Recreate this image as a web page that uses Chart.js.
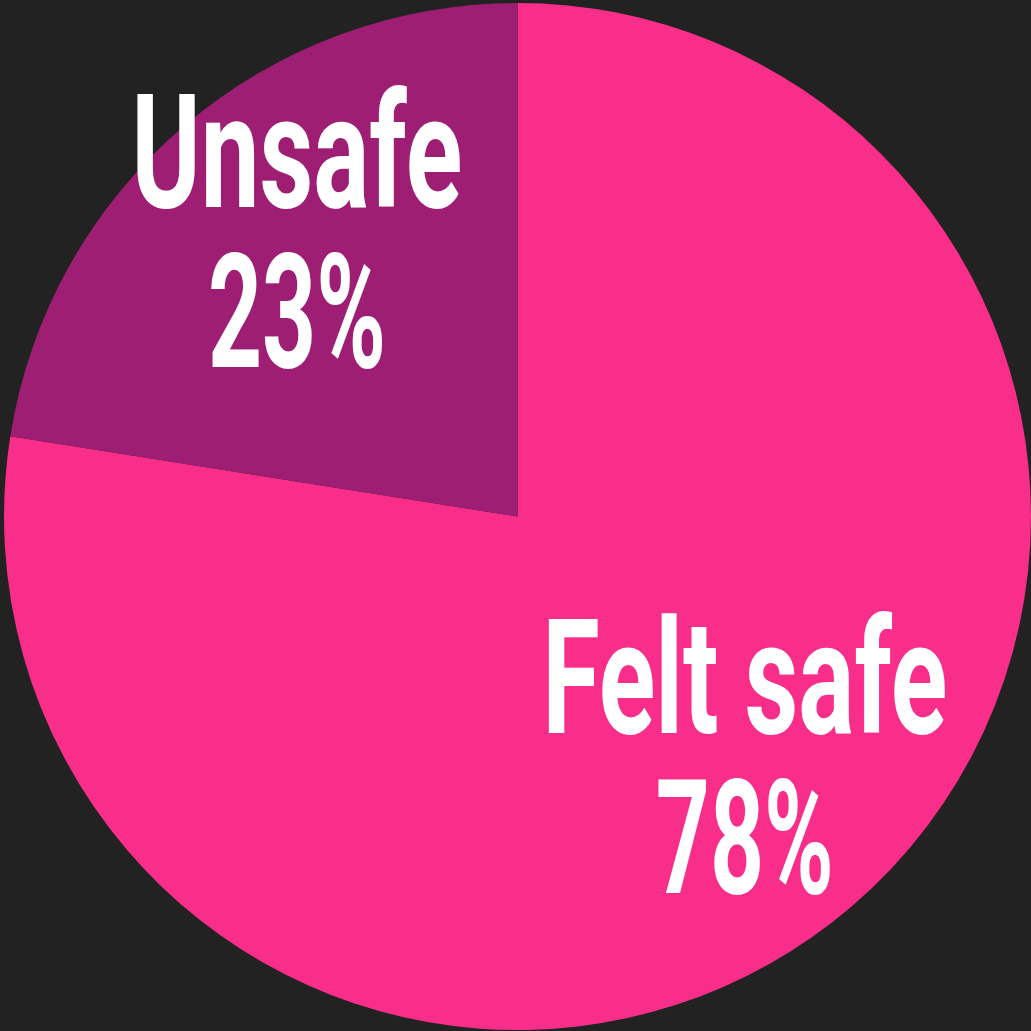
<!DOCTYPE html>
<html>
<head>
<meta charset="utf-8">
<script src="https://cdn.jsdelivr.net/npm/chart.js@4.4.0/dist/chart.umd.min.js"></script>
<style>
  html, body { margin: 0; padding: 0; background: #222222; }
  #wrap { width: 1031px; height: 1031px; }
</style>
</head>
<body>
<div id="wrap"><canvas id="pie"></canvas></div>
<script>
var labels = ["Felt safe", "Unsafe"];
var values = [77.5, 22.5];
var colors = ["#F92E8A", "#9E1E73"];

// where each label block sits inside its slice
var labelRadius = [0.643, 0.704];
var labelNudge = [-3.0, 2.9]; // degrees

var slabLabels = {
  id: 'slabLabels',
  afterDatasetsDraw: function(chart){
    var ctx = chart.ctx;
    var meta = chart.getDatasetMeta(0);
    var fontSize = 160;
    var capH = 114;
    var lineGap = 160;
    var squeeze = [0.655, 0.59]; // name line, percent line
    meta.data.forEach(function(arc, i){
      var mid = (arc.startAngle + arc.endAngle) / 2 + labelNudge[i] * Math.PI / 180;
      var r = arc.outerRadius * labelRadius[i];
      var cx = arc.x + Math.cos(mid) * r;
      var cy = arc.y + Math.sin(mid) * r;
      var top = cy - (capH + lineGap) / 2;
      var lines = [labels[i], Math.round(values[i]) + "%"];
      ctx.save();
      ctx.fillStyle = "#ffffff";
      ctx.font = "bold " + fontSize + "px Roboto, 'Liberation Sans', sans-serif";
      ctx.textAlign = "center";
      ctx.textBaseline = "alphabetic";
      lines.forEach(function(t, j){
        ctx.save();
        ctx.translate(cx, top + capH + j * lineGap);
        ctx.scale(squeeze[j], 1);
        ctx.fillText(t, 0, 0);
        ctx.restore();
      });
      ctx.restore();
    });
  }
};

new Chart(document.getElementById('pie'), {
  type: 'pie',
  data: {
    labels: labels,
    datasets: [{
      data: values,
      backgroundColor: colors,
      borderWidth: 0
    }]
  },
  options: {
    responsive: true,
    maintainAspectRatio: false,
    animation: false,
    layout: { padding: { left: 4, top: 2, right: 0, bottom: 0 } },
    plugins: {
      legend: { display: false },
      tooltip: { enabled: false }
    }
  },
  plugins: [slabLabels]
});
</script>
</body>
</html>
